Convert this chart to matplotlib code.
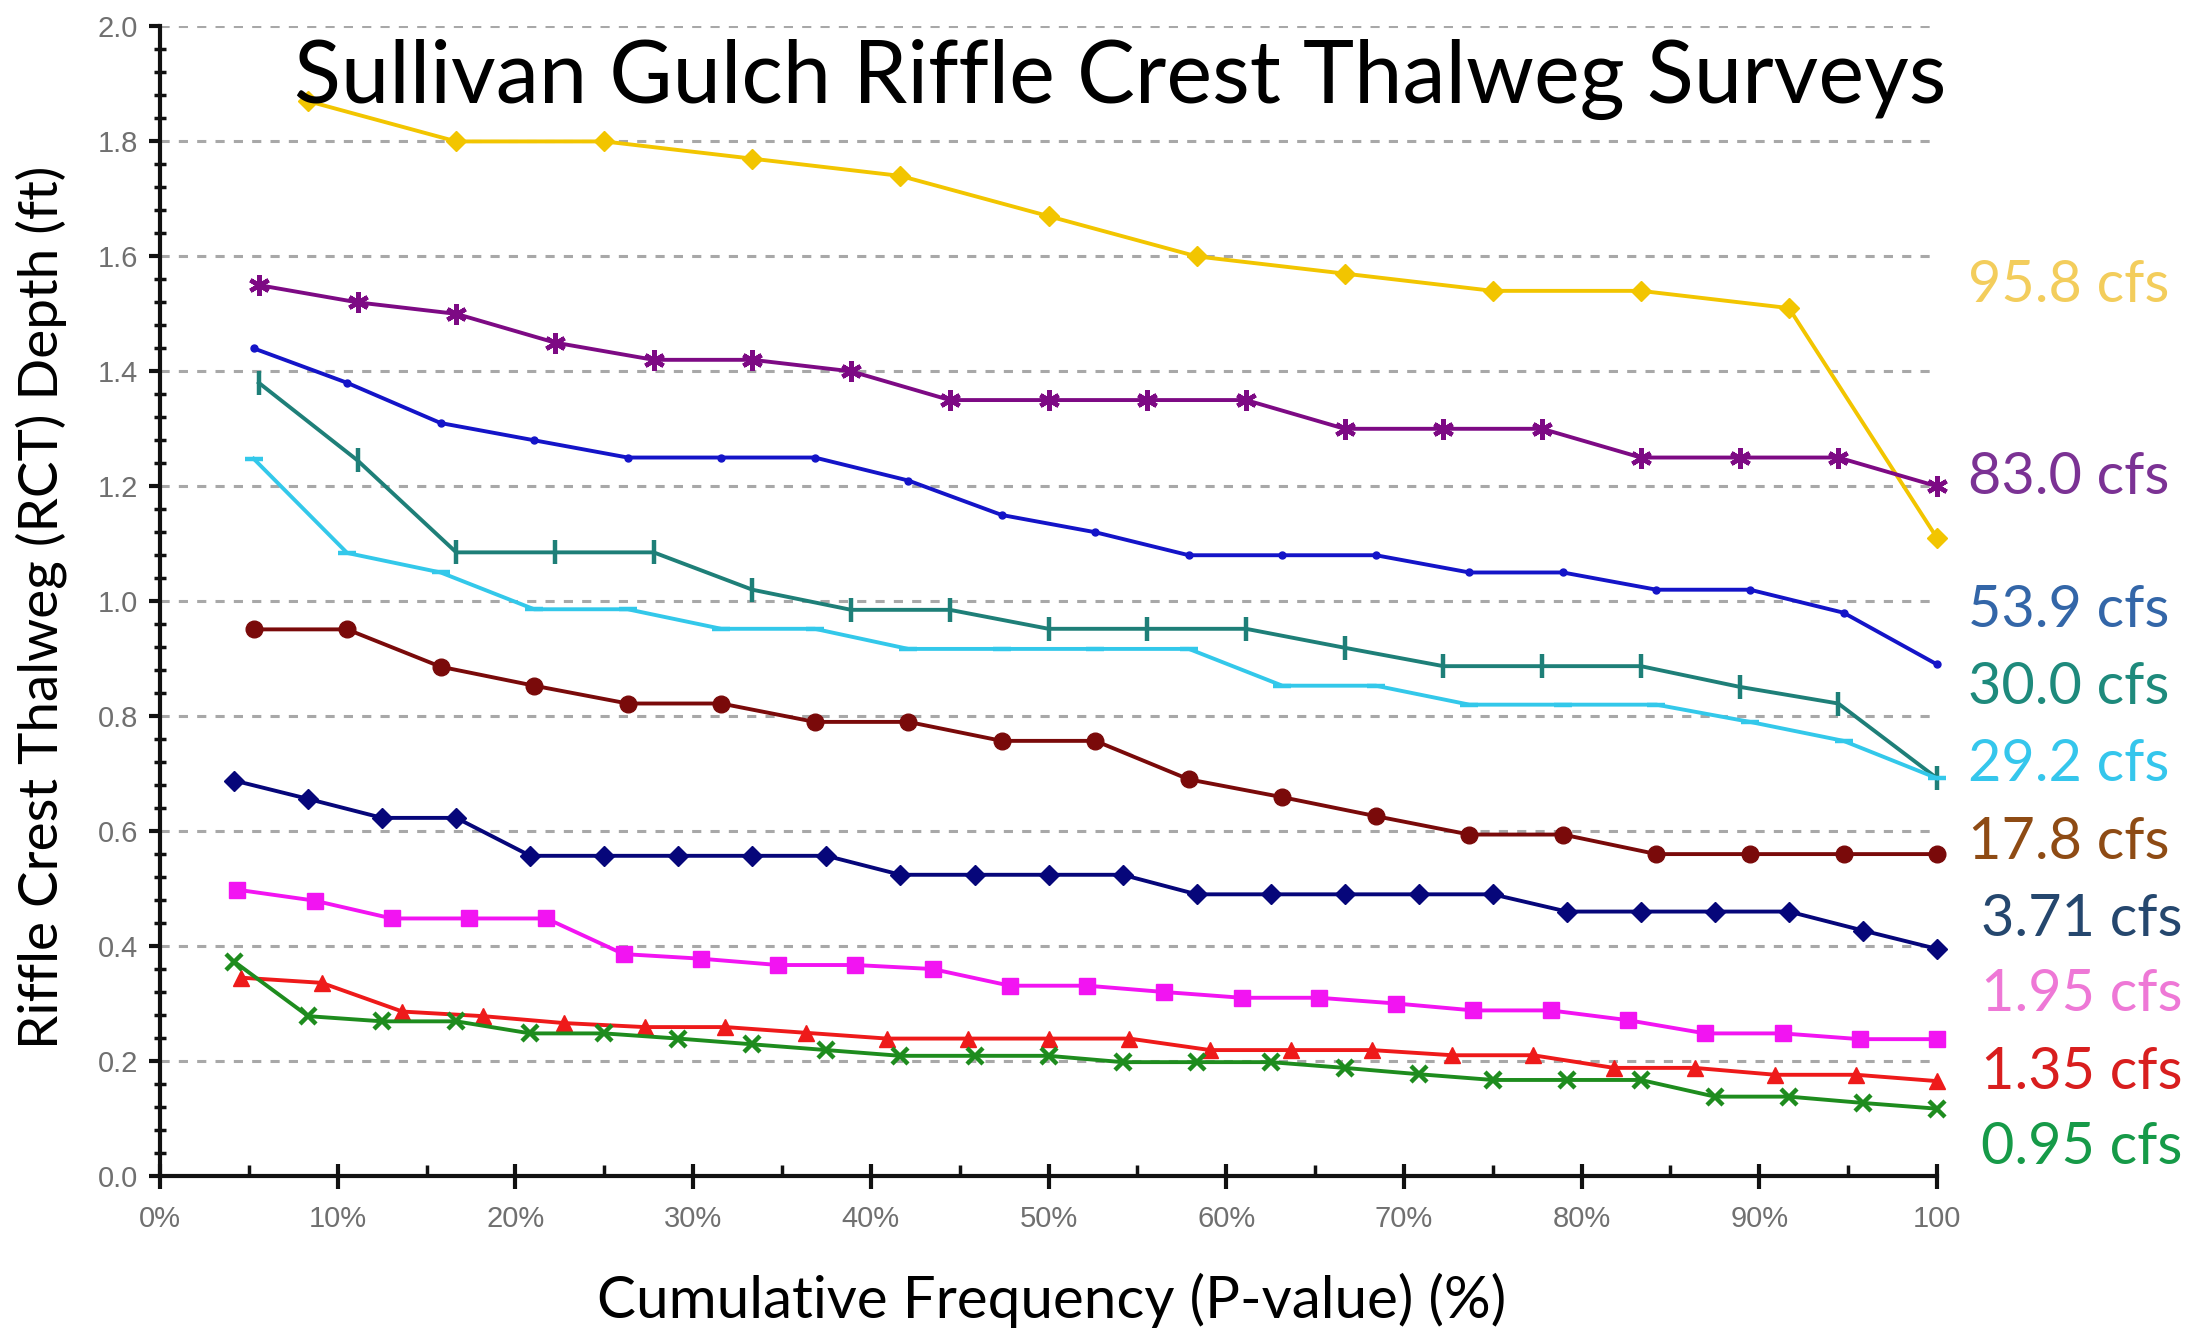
import matplotlib
matplotlib.use("Agg")
import matplotlib.pyplot as plt
import matplotlib.transforms as mtransforms
import numpy as np

# Riffle crest thalweg depths (ft), sorted high to low for each survey discharge
depth_958 = [1.87, 1.80, 1.80, 1.77, 1.74, 1.67, 1.60, 1.57, 1.54, 1.54, 1.51, 1.11]
depth_830 = [1.55, 1.52, 1.50, 1.45, 1.42, 1.42, 1.40, 1.35, 1.35, 1.35, 1.35,
             1.30, 1.30, 1.30, 1.25, 1.25, 1.25, 1.20]
depth_539 = [1.44, 1.38, 1.31, 1.28, 1.25, 1.25, 1.25, 1.21, 1.15, 1.12, 1.08,
             1.08, 1.08, 1.05, 1.05, 1.02, 1.02, 0.98, 0.89]
depth_300 = [1.38, 1.245, 1.085, 1.085, 1.085, 1.02, 0.985, 0.985, 0.952, 0.952,
             0.952, 0.919, 0.887, 0.887, 0.887, 0.851, 0.822, 0.692]
depth_292 = [1.248, 1.084, 1.05, 0.986, 0.986, 0.952, 0.952, 0.917, 0.917, 0.917,
             0.917, 0.853, 0.853, 0.82, 0.82, 0.82, 0.79, 0.757, 0.692]
depth_178 = [0.951, 0.951, 0.886, 0.853, 0.822, 0.822, 0.79, 0.79, 0.757, 0.757,
             0.69, 0.659, 0.626, 0.594, 0.594, 0.56, 0.56, 0.56, 0.56]
depth_371 = [0.688, 0.656, 0.623, 0.623, 0.557, 0.557, 0.557, 0.557, 0.557, 0.524,
             0.524, 0.524, 0.524, 0.49, 0.49, 0.49, 0.49, 0.49, 0.46, 0.46, 0.46,
             0.46, 0.427, 0.395]
depth_195 = [0.498, 0.479, 0.448, 0.448, 0.448, 0.386, 0.378, 0.367, 0.367, 0.36,
             0.331, 0.331, 0.32, 0.31, 0.31, 0.30, 0.288, 0.288, 0.271, 0.248,
             0.248, 0.238, 0.238]
depth_135 = [0.345, 0.336, 0.286, 0.278, 0.266, 0.259, 0.259, 0.249, 0.239, 0.239,
             0.239, 0.239, 0.219, 0.219, 0.219, 0.21, 0.21, 0.188, 0.188, 0.176,
             0.176, 0.165]
depth_095 = [0.373, 0.278, 0.269, 0.269, 0.248, 0.248, 0.239, 0.229, 0.219, 0.209,
             0.209, 0.209, 0.198, 0.198, 0.198, 0.188, 0.177, 0.167, 0.167, 0.167,
             0.138, 0.138, 0.127, 0.117]

discharge_labels = ["95.8 cfs", "83.0 cfs", "53.9 cfs", "30.0 cfs", "29.2 cfs",
                    "17.8 cfs", "3.71 cfs", "1.95 cfs", "1.35 cfs", "0.95 cfs"]
label_depths = [1.55, 1.215, 0.983, 0.849, 0.716, 0.58, 0.447, 0.316, 0.18, 0.049]

y_ticks = [0.0, 0.2, 0.4, 0.6, 0.8, 1.0, 1.2, 1.4, 1.6, 1.8, 2.0]
x_ticks = [0, 10, 20, 30, 40, 50, 60, 70, 80, 90, 100]
x_tick_labels = ["0%", "10%", "20%", "30%", "40%", "50%", "60%", "70%", "80%", "90%", "100"]

series = [
    # depths, line colour, marker, marker size, label colour
    (depth_958, "#F2C500", "D", 10, "#F3CD5C"),
    (depth_830, "#7D0A84", (6, 2, 0), 15, "#7B3294"),
    (depth_539, "#1414C8", "o", 5, "#3366A8"),
    (depth_300, "#1E7F78", "|", 17, "#1E8A7C"),
    (depth_292, "#33C8EA", "_", 13, "#35C6EC"),
    (depth_178, "#7A0A0A", "o", 12, "#8E4B14"),
    (depth_371, "#06067A", "D", 10, "#25476E"),
    (depth_195, "#F214F2", "s", 12, "#EE78D6"),
    (depth_135, "#EE1A1A", "^", 11, "#D81E1E"),
    (depth_095, "#1E8C1E", "x", 12, "#169A48"),
]

fig = plt.figure(figsize=(21.87, 13.31), dpi=100)
ax = fig.add_axes([0.0732, 0.1165, 0.8125, 0.8636])

for depths, color, marker, ms, _ in series:
    n = len(depths)
    freq = np.arange(1, n + 1) / n * 100.0
    mew = 3.2 if marker in ("x", "|", "_", (6, 2, 0)) else 1
    ax.plot(freq, depths, color=color, lw=2.8, marker=marker, ms=ms,
            mew=mew, mec=color, mfc=color, zorder=3, clip_on=False)

ax.set_xlim(0, 100)
ax.set_ylim(0, 2.0)

for yv in y_ticks[1:]:
    ax.axhline(yv, color="#A8A8A8", lw=2.2, ls=(0, (3, 3)), zorder=1)

ax.spines["top"].set_visible(False)
ax.spines["right"].set_visible(False)
for s in ("left", "bottom"):
    ax.spines[s].set_linewidth(3)
    ax.spines[s].set_color("#111111")

tick_font = ["Liberation Sans Narrow", "Liberation Sans"]
ax.set_yticks(y_ticks)
ax.set_yticklabels([f"{v:.1f}" for v in y_ticks], fontsize=21, color="#707070",
                   family=tick_font)
ax.set_yticks(np.arange(0, 2.0001, 0.04), minor=True)
ax.set_xticks(x_ticks)
ax.set_xticklabels(x_tick_labels, fontsize=21, color="#707070", family=tick_font)
ax.set_xticks(np.arange(5, 100, 10), minor=True)
ax.tick_params(axis="y", which="major", direction="out", length=8, width=3, color="#111111", pad=8)
ax.tick_params(axis="y", which="minor", direction="inout", length=8, width=2.5, color="#111111")
ax.tick_params(axis="x", which="major", direction="inout", length=18, width=3, color="#111111", pad=12)
ax.tick_params(axis="x", which="minor", direction="in", length=8, width=2.5, color="#111111")

txt_font = ["Lato", "DejaVu Sans"]
fig.text(0.512, 0.940, "Sullivan Gulch Riffle Crest Thalweg Surveys", fontsize=62.4,
         family=txt_font, ha="center", va="center", color="black")
fig.text(0.019, 0.544, "Riffle Crest Thalweg (RCT) Depth (ft)", fontsize=39.5,
         family=txt_font, rotation=90, ha="center", va="center", color="black")
fig.text(0.481, 0.023, "Cumulative Frequency (P-value) (%)", fontsize=42,
         family=txt_font, ha="center", va="center", color="black")

trans = mtransforms.blended_transform_factory(fig.transFigure, ax.transData)
for i, ((depths, _, _, _, lcolor), text, yv) in enumerate(zip(series, discharge_labels, label_depths)):
    x0 = 0.9 if i < 6 else 0.906
    ax.text(x0, yv, text, transform=trans, fontsize=41.5, family=txt_font,
            color=lcolor, ha="left", va="center")

fig.savefig("out.png", dpi=100)
